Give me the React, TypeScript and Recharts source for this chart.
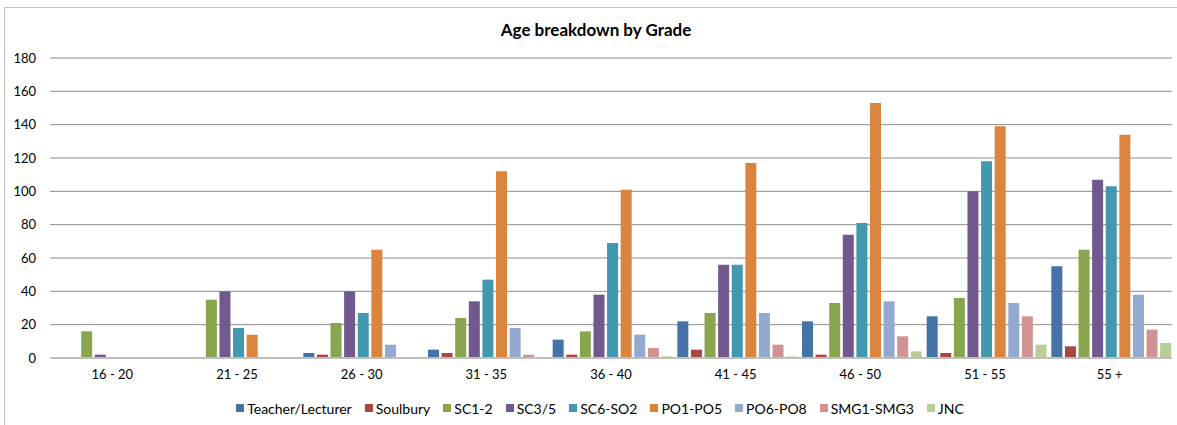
import { Bar, BarChart, CartesianGrid, Legend, XAxis, YAxis } from "recharts";

const ageBands = ["16 - 20", "21 - 25", "26 - 30", "31 - 35", "36 - 40", "41 - 45", "46 - 50", "51 - 55", "55 +"];

const teacherLecturer = [0, 0, 3, 5, 11, 22, 22, 25, 55];
const soulbury = [0, 0, 2, 3, 2, 5, 2, 3, 7];
const sc12 = [16, 35, 21, 24, 16, 27, 33, 36, 65];
const sc35 = [2, 40, 40, 34, 38, 56, 74, 100, 107];
const sc6so2 = [0, 18, 27, 47, 69, 56, 81, 118, 103];
const po1po5 = [0, 14, 65, 112, 101, 117, 153, 139, 134];
const po6po8 = [0, 0, 8, 18, 14, 27, 34, 33, 38];
const smg1smg3 = [0, 0, 0, 2, 6, 8, 13, 25, 17];
const jnc = [0, 0, 0, 0, 1, 1, 4, 8, 9];

const yTicks = [0, 20, 40, 60, 80, 100, 120, 140, 160, 180];

const series = [
  { key: "Teacher/Lecturer", values: teacherLecturer, color: "#4572A7" },
  { key: "Soulbury", values: soulbury, color: "#AA4643" },
  { key: "SC1-2", values: sc12, color: "#89A54E" },
  { key: "SC3/5", values: sc35, color: "#71588F" },
  { key: "SC6-SO2", values: sc6so2, color: "#4198AF" },
  { key: "PO1-PO5", values: po1po5, color: "#DB843D" },
  { key: "PO6-PO8", values: po6po8, color: "#93A9CF" },
  { key: "SMG1-SMG3", values: smg1smg3, color: "#D19392" },
  { key: "JNC", values: jnc, color: "#B9CD96" },
];

const data = ageBands.map((band, i) => {
  const row: Record<string, string | number> = { band };
  series.forEach((s) => {
    row[s.key] = s.values[i];
  });
  return row;
});

const font = "Lato, 'Liberation Sans', sans-serif";

function GradeLegend() {
  return (
    <div
      style={{
        height: 20,
        display: "flex",
        justifyContent: "center",
        alignItems: "center",
        paddingLeft: 36,
        fontSize: 14,
        fontFamily: font,
        color: "#000",
      }}
    >
      {series.map((s) => (
        <span key={s.key} style={{ display: "flex", alignItems: "center", marginRight: 13 }}>
          <span style={{ width: 8, height: 8, background: s.color, marginRight: 3 }} />
          {s.key}
        </span>
      ))}
    </div>
  );
}

export default function App() {
  return (
    <div
      style={{
        position: "absolute",
        left: 0,
        top: 0,
        width: 1177,
        height: 425,
        background: "#fff",
        overflow: "hidden",
        fontFamily: font,
      }}
    >
      <div
        style={{
          position: "absolute",
          left: 4,
          top: 7,
          width: 1200,
          height: 440,
          border: "1px solid #BFBFBF",
        }}
      />
      <div
        style={{
          position: "absolute",
          left: 0,
          top: 19,
          width: 1192,
          textAlign: "center",
          fontWeight: 700,
          fontSize: 17,
          color: "#000",
        }}
      >
        Age breakdown by Grade
      </div>
      <div style={{ position: "absolute", left: 0, top: 0 }}>
        <BarChart
          width={1177}
          height={425}
          data={data}
          margin={{ top: 58, right: 5, left: 5, bottom: 17 }}
          barCategoryGap={4}
          barGap={2.6}
        >
          <CartesianGrid vertical={false} stroke="#8C8C8C" />
          <XAxis
            dataKey="band"
            tickLine={false}
            axisLine={{ stroke: "#BFBFBF", strokeWidth: 2 }}
            tick={{ fill: "#000", fontSize: 13, fontFamily: font }}
            tickMargin={6}
            height={30}
          />
          <YAxis
            domain={[0, 180]}
            ticks={yTicks}
            width={45}
            tickLine={false}
            axisLine={false}
            tick={{ fill: "#000", fontSize: 13, fontFamily: font }}
            tickMargin={8}
          />
          <Legend verticalAlign="bottom" content={() => <GradeLegend />} wrapperStyle={{ bottom: 7 }} />
          {series.map((s) => (
            <Bar key={s.key} dataKey={s.key} fill={s.color} isAnimationActive={false} />
          ))}
        </BarChart>
      </div>
    </div>
  );
}
